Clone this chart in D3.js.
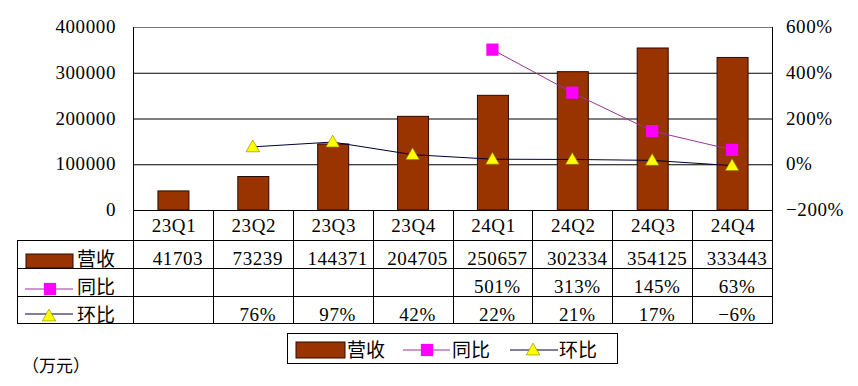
<!DOCTYPE html>
<meta charset="utf-8">
<head>
  <style>
    body { margin: 0; background: #fff; }
    .num { font-family: "Liberation Serif", serif; font-size: 19px; fill: #000; letter-spacing: 0.6px; }
    .cjk { font-family: "Noto Sans CJK SC", sans-serif; font-size: 19px; fill: #000; }
  </style>
  <script src="https://cdn.jsdelivr.net/npm/d3@7"></script>
</head>
<body>
  <svg width="858" height="386"></svg>
  <script>

    var quarters = ["23Q1", "23Q2", "23Q3", "23Q4", "24Q1", "24Q2", "24Q3", "24Q4"];
    var revenue = [41703, 73239, 144371, 204705, 250657, 302334, 354125, 333443];
    var yoy = [null, null, null, null, 501, 313, 145, 63];
    var qoq = [null, 76, 97, 42, 22, 21, 17, -6];
    var leftTicks = [0, 100000, 200000, 300000, 400000];
    var rightTicks = [-200, 0, 200, 400, 600];
    var seriesNames = ["营收", "同比", "环比"];

    var svg = d3.select("svg");

    var plotLeft = 133, plotRight = 772, plotTop = 27, plotBottom = 210;
    var tableLeft = 17;
    var rowY = [240, 268, 296, 323];

    var barColor = "#993300", sqColor = "#ff00ff", triColor = "#ffff00";

    var x = d3.scaleBand().domain(quarters).range([plotLeft, plotRight]);
    var y = d3.scaleLinear().domain([0, 400000]).range([plotBottom, plotTop]);
    var y2 = d3.scaleLinear().domain([-200, 600]).range([plotBottom, plotTop]);
    var barW = 31;

    // grid lines
    svg.append("g").selectAll("line")
      .data(leftTicks.slice(1))
      .enter().append("line")
      .attr("x1", plotLeft).attr("x2", plotRight)
      .attr("y1", function(d) { return y(d) + 0.5; })
      .attr("y2", function(d) { return y(d) + 0.5; })
      .attr("stroke", function(d) { return d == 400000 ? "#777" : "#000"; })
      .attr("stroke-width", 1);

    // left axis labels
    svg.append("g").selectAll("text")
      .data(leftTicks)
      .enter().append("text")
      .attr("class", "num")
      .attr("x", 116)
      .attr("y", function(d) { return y(d) + 6; })
      .attr("text-anchor", "end")
      .text(function(d) { return d; });

    // right axis labels
    svg.append("g").selectAll("text")
      .data(rightTicks)
      .enter().append("text")
      .attr("class", "num")
      .attr("x", 786)
      .attr("y", function(d) { return y2(d) + 6; })
      .text(function(d) { return (d < 0 ? "\u2212" + (-d) : d) + "%"; });

    // bars
    svg.append("g").selectAll("rect")
      .data(revenue)
      .enter().append("rect")
      .attr("x", function(d, i) { return x(quarters[i]) + x.bandwidth() / 2 - barW / 2 + 0.5; })
      .attr("y", function(d) { return y(d); })
      .attr("width", barW)
      .attr("height", function(d) { return plotBottom - y(d); })
      .attr("fill", barColor)
      .attr("stroke", "#2a0a00")
      .attr("stroke-width", 1);

    function cx(i) { return x(quarters[i]) + x.bandwidth() / 2; }

    // lines
    var pctLine = d3.line()
      .defined(function(d) { return d != null; })
      .x(function(d, i) { return cx(i); })
      .y(function(d) { return y2(d); });

    svg.append("path")
      .datum(yoy)
      .attr("d", pctLine)
      .attr("fill", "none")
      .attr("stroke", "#993399")
      .attr("stroke-width", 1);

    svg.append("path")
      .datum(qoq)
      .attr("d", pctLine)
      .attr("fill", "none")
      .attr("stroke", "#000033")
      .attr("stroke-width", 1);

    var sq = d3.symbol().type(d3.symbolSquare).size(150);
    var tri = d3.symbol().type(d3.symbolTriangle).size(80);

    svg.append("g").selectAll("path")
      .data(yoy.map(function(d, i) { return { v: d, i: i }; }).filter(function(d) { return d.v != null; }))
      .enter().append("path")
      .attr("d", sq)
      .attr("transform", function(d) { return "translate(" + cx(d.i) + "," + y2(d.v) + ")"; })
      .attr("fill", sqColor);

    svg.append("g").selectAll("path")
      .data(qoq.map(function(d, i) { return { v: d, i: i }; }).filter(function(d) { return d.v != null; }))
      .enter().append("path")
      .attr("d", tri)
      .attr("transform", function(d) { return "translate(" + cx(d.i) + "," + (y2(d.v) + 1) + ")"; })
      .attr("fill", triColor)
      .attr("stroke", "#8a7a00")
      .attr("stroke-width", 0.6);

    // frame lines
    svg.append("line").attr("x1", plotLeft + 0.5).attr("x2", plotLeft + 0.5).attr("y1", plotTop).attr("y2", rowY[3]).attr("stroke", "#000");
    svg.append("line").attr("x1", plotRight + 0.5).attr("x2", plotRight + 0.5).attr("y1", plotTop).attr("y2", rowY[3]).attr("stroke", "#000");
    svg.append("line").attr("x1", plotLeft).attr("x2", plotRight).attr("y1", plotBottom + 0.5).attr("y2", plotBottom + 0.5).attr("stroke", "#000");

    // table
    var t = svg.append("g");
    t.selectAll(null)
      .data(quarters.slice(1))
      .enter().append("line")
      .attr("x1", function(d) { return Math.round(x(d)) + 0.5; })
      .attr("x2", function(d) { return Math.round(x(d)) + 0.5; })
      .attr("y1", plotBottom).attr("y2", rowY[3])
      .attr("stroke", "#000");
    t.append("line").attr("x1", tableLeft + 0.5).attr("x2", tableLeft + 0.5).attr("y1", rowY[0]).attr("y2", rowY[3]).attr("stroke", "#000");
    t.selectAll(null)
      .data(rowY)
      .enter().append("line")
      .attr("x1", tableLeft).attr("x2", plotRight + 1)
      .attr("y1", function(d) { return d + 0.5; }).attr("y2", function(d) { return d + 0.5; })
      .attr("stroke", "#000");

    t.selectAll(null)
      .data(quarters)
      .enter().append("text")
      .attr("class", "num")
      .attr("x", function(d) { return x(d) + x.bandwidth() / 2 + 1; })
      .attr("y", 232)
      .attr("text-anchor", "middle")
      .text(function(d) { return d; });

    var rows = [
      revenue.map(function(d) { return String(d); }),
      yoy.map(function(d) { return d == null ? "" : d + "%"; }),
      qoq.map(function(d) { return d == null ? "" : (d < 0 ? "\u2212" + (-d) : d) + "%"; })
    ];
    var baselines = [265, 293, 321];
    rows.forEach(function(r, ri) {
      t.selectAll(null)
        .data(r)
        .enter().append("text")
        .attr("class", "num")
        .attr("x", function(d, i) { return cx(i) + 5; })
        .attr("y", baselines[ri])
        .attr("text-anchor", "middle")
        .text(function(d) { return d; });
    });

    // table row legends
    t.append("rect").attr("x", 26).attr("y", 254).attr("width", 47).attr("height", 14)
      .attr("fill", barColor).attr("stroke", "#2a0a00");
    t.append("line").attr("x1", 25).attr("x2", 73).attr("y1", 289).attr("y2", 289).attr("stroke", "#993399");
    t.append("path").attr("d", sq).attr("transform", "translate(50,289)").attr("fill", sqColor);
    t.append("line").attr("x1", 25).attr("x2", 73).attr("y1", 314).attr("y2", 314).attr("stroke", "#000033");
    t.append("path").attr("d", tri).attr("transform", "translate(49,317)").attr("fill", triColor)
      .attr("stroke", "#8a7a00").attr("stroke-width", 0.6);
    t.selectAll(null)
      .data(seriesNames)
      .enter().append("text")
      .attr("class", "cjk")
      .attr("x", 77)
      .attr("y", function(d, i) { return baselines[i] + 1; })
      .text(function(d) { return d; });

    // bottom legend box
    var lg = svg.append("g");
    lg.append("rect").attr("x", 287.5).attr("y", 333.5).attr("width", 330).attr("height", 30)
      .attr("fill", "#fff").attr("stroke", "#000");
    lg.append("rect").attr("x", 296).attr("y", 342).attr("width", 49).attr("height", 16)
      .attr("fill", barColor).attr("stroke", "#2a0a00");
    lg.append("text").attr("class", "cjk").attr("x", 347).attr("y", 357).text(seriesNames[0]);
    lg.append("line").attr("x1", 403).attr("x2", 450).attr("y1", 350).attr("y2", 350).attr("stroke", "#993399");
    lg.append("path").attr("d", sq).attr("transform", "translate(427,350)").attr("fill", sqColor);
    lg.append("text").attr("class", "cjk").attr("x", 452).attr("y", 357).text(seriesNames[1]);
    lg.append("line").attr("x1", 510).attr("x2", 558).attr("y1", 350).attr("y2", 350).attr("stroke", "#000033");
    lg.append("path").attr("d", tri).attr("transform", "translate(533,351)").attr("fill", triColor)
      .attr("stroke", "#8a7a00").attr("stroke-width", 0.6);
    lg.append("text").attr("class", "cjk").attr("x", 559).attr("y", 357).text(seriesNames[2]);

    // unit
    svg.append("text")
      .attr("class", "cjk")
      .attr("x", 22)
      .attr("y", 372)
      .style("font-size", "17px")
      .text("（万元）");

  </script>
</body>
